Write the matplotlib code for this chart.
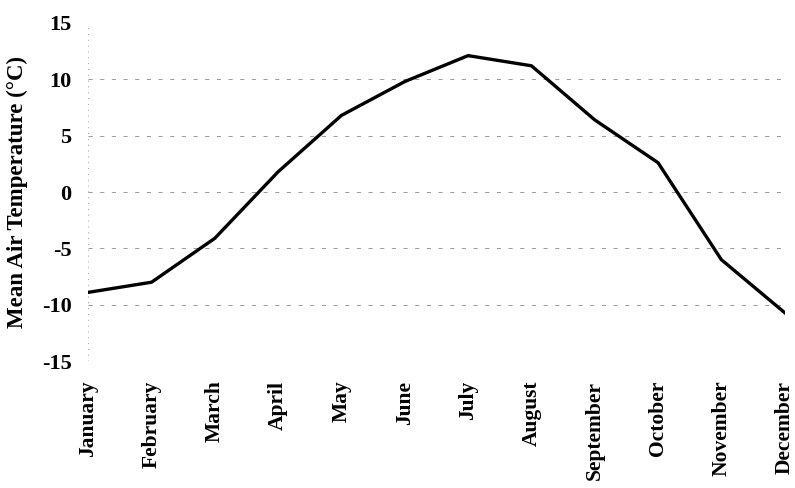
import numpy as np
import matplotlib.pyplot as plt

plt.rcParams['font.family'] = ['Liberation Serif', 'DejaVu Serif']
plt.rcParams['font.weight'] = 'bold'

# Monthly mean air temperature
months = ['January', 'February', 'March', 'April', 'May', 'June',
          'July', 'August', 'September', 'October', 'November', 'December']
temps = [-8.9, -8.0, -4.1, 1.8, 6.8, 9.8, 12.1, 11.2, 6.4, 2.6, -6.0, -10.7]
yticks = [-15, -10, -5, 0, 5, 10, 15]

fig = plt.figure(figsize=(7.95, 4.88), dpi=100)
ax = fig.add_axes([0.111, 0.260, 0.876, 0.693])

x = np.arange(len(months))

# faint dashed grid like the scanned original
for y in yticks[1:-1]:
    ax.axhline(y, color='0.55', lw=0.6, ls=(0, (5, 9)), zorder=1)
ax.axvline(0, color='0.5', lw=0.6, ls=(0, (1, 6)), zorder=1)

ax.plot(x, temps, color='black', lw=2.4, zorder=3)

ax.set_xlim(0, len(months) - 1)
ax.set_ylim(-15, 15)
ax.set_yticks(yticks)
ax.set_yticklabels([str(v) for v in yticks], fontsize=16, fontweight='bold')
ax.set_xticks(x)
ax.set_xticklabels(months, rotation=90, fontsize=15.5, fontweight='bold')
ax.tick_params(length=0, pad=12)
ax.tick_params(axis='x', pad=14)

for s in ax.spines.values():
    s.set_visible(False)

ax.set_ylabel('Mean Air Temperature (°C)', fontsize=16.5, fontweight='bold', labelpad=10)

fig.savefig('out.png', dpi=100)
